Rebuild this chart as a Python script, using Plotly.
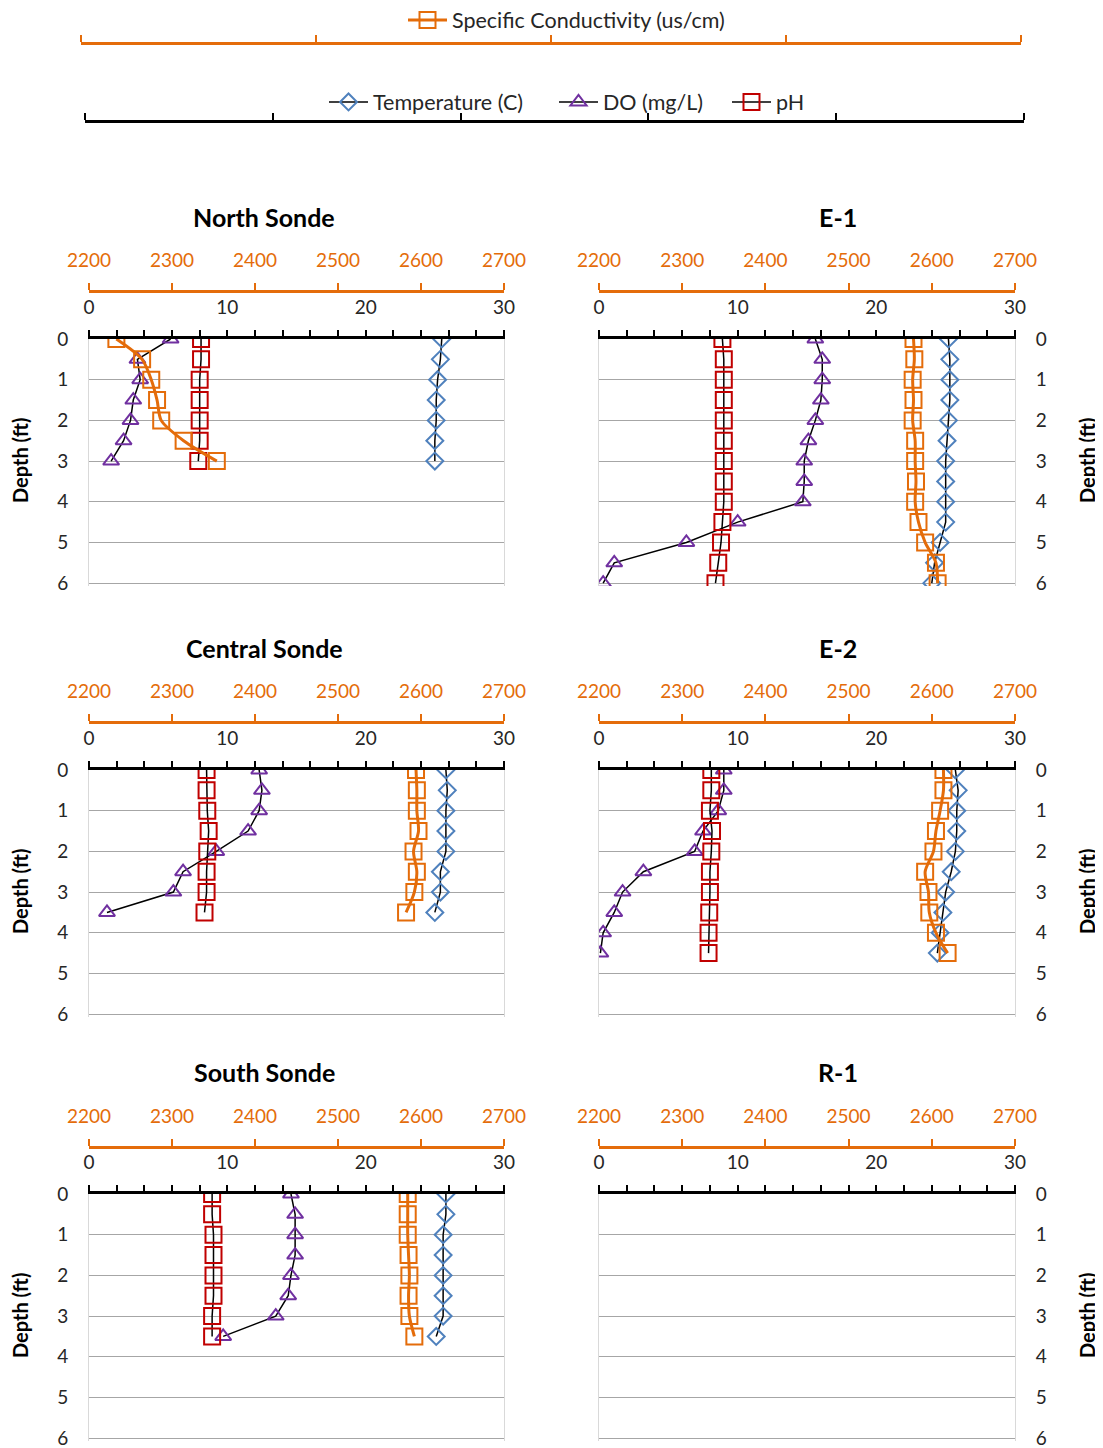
import plotly.graph_objects as go

# ---------------- data ----------------
panel_names = ["North Sonde", "E-1", "Central Sonde", "E-2", "South Sonde", "R-1"]

depth_north = [0, 0.5, 1, 1.5, 2, 2.5, 3]
temp_north = [25.5, 25.4, 25.2, 25.1, 25.1, 25.0, 25.0]
do_north = [5.9, 3.5, 3.7, 3.2, 3.0, 2.5, 1.6]
ph_north = [8.1, 8.1, 8.0, 8.0, 8.0, 8.0, 7.9]
cond_north = [2233, 2264, 2275, 2282, 2287, 2314, 2354]

depth_e1 = [0, 0.5, 1, 1.5, 2, 2.5, 3, 3.5, 4, 4.5, 5, 5.5, 6]
temp_e1 = [25.2, 25.3, 25.3, 25.3, 25.2, 25.1, 25.0, 25.0, 25.0, 25.0, 24.6, 24.2, 24.0]
do_e1 = [15.6, 16.1, 16.1, 16.0, 15.6, 15.1, 14.8, 14.8, 14.7, 10.0, 6.3, 1.1, 0.3]
ph_e1 = [8.9, 9.0, 9.0, 9.0, 9.0, 9.0, 9.0, 9.0, 9.0, 8.9, 8.8, 8.6, 8.4]
cond_e1 = [2578, 2579, 2577, 2578, 2577, 2580, 2580, 2581, 2580, 2584, 2592, 2605, 2607]

depth_central = [0, 0.5, 1, 1.5, 2, 2.5, 3, 3.5]
temp_central = [25.8, 25.9, 25.8, 25.8, 25.8, 25.4, 25.4, 25.0]
do_central = [12.3, 12.5, 12.3, 11.5, 9.2, 6.8, 6.1, 1.3]
ph_central = [8.5, 8.5, 8.55, 8.65, 8.55, 8.5, 8.5, 8.35]
cond_central = [2594, 2595, 2595, 2597, 2591, 2595, 2592, 2582]

depth_e2 = [0, 0.5, 1, 1.5, 2, 2.5, 3, 3.5, 4, 4.5]
temp_e2 = [25.7, 25.9, 25.8, 25.8, 25.7, 25.4, 25.0, 24.8, 24.6, 24.4]
do_e2 = [9.0, 9.0, 8.6, 7.5, 6.9, 3.2, 1.7, 1.1, 0.3, 0.1]
ph_e2 = [8.1, 8.1, 8.0, 8.15, 8.1, 8.0, 8.0, 7.95, 7.9, 7.9]
cond_e2 = [2614, 2614, 2610, 2605, 2602, 2592, 2596, 2597, 2605, 2619]

depth_south = [0, 0.5, 1, 1.5, 2, 2.5, 3, 3.5]
temp_south = [25.8, 25.8, 25.6, 25.6, 25.6, 25.6, 25.6, 25.1]
do_south = [14.6, 14.9, 14.9, 14.9, 14.6, 14.4, 13.5, 9.7]
ph_south = [8.9, 8.9, 9.0, 9.0, 9.0, 9.0, 8.9, 8.9]
cond_south = [2584, 2584, 2584, 2585, 2586, 2585, 2586, 2592]

depth_r1 = []
temp_r1 = []
do_r1 = []
ph_r1 = []
cond_r1 = []

main_ticks = [0, 10, 20, 30]
cond_ticks = [2200, 2300, 2400, 2500, 2600, 2700]
depth_ticks = [0, 1, 2, 3, 4, 5, 6]

series_names = ["Temperature (C)", "DO (mg/L)", "pH", "Specific Conductivity (us/cm)"]
depth_title = "Depth (ft)"

# ---------------- styling / geometry (reference pixel coords) ----------------
OFF = 8                      # page body margin of the html page
W, H = 1103 - OFF, 1448 - OFF
FONT = "Lato"
C_TEMP = "#4F81BD"
C_DO = "#7030A0"
C_PH = "#C00000"
C_COND = "#E46C0A"
TXT = "#262626"


def py(p):
    return 1 - (p - OFF) / H


def pxx(p):
    return (p - OFF) / W


col_dom = [(89, 504), (599, 1015)]
# (plot top, plot bottom, orange axis line, title)
row_geo = [(339, 586, 291, 217), (770, 1017, 722, 648), (1194, 1441, 1147, 1072)]
title_x = [264, 838]
depth_title_x = [20, 1087]

panels = [
    (depth_north, temp_north, do_north, ph_north, cond_north),
    (depth_e1, temp_e1, do_e1, ph_e1, cond_e1),
    (depth_central, temp_central, do_central, ph_central, cond_central),
    (depth_e2, temp_e2, do_e2, ph_e2, cond_e2),
    (depth_south, temp_south, do_south, ph_south, cond_south),
    (depth_r1, temp_r1, do_r1, ph_r1, cond_r1),
]

fig = go.Figure()
layout = {}
annotations = []


def axkey(prefix, n):
    return prefix + ("" if n == 1 else str(n))


for i, (dep, tmp, dox, phx, cnd) in enumerate(panels):
    row, col = divmod(i, 2)
    top, bot, opos, tpos = row_geo[row]
    l, r = col_dom[col]
    nm, no, nb, ny = 3 * i + 1, 3 * i + 2, 3 * i + 3, i + 1
    xm, xo, yy = axkey("x", nm), axkey("x", no), axkey("y", ny)
    show = i == 0

    fig.add_trace(go.Scatter(
        x=tmp, y=dep, xaxis=xm, yaxis=yy, name=series_names[0], mode="lines+markers",
        line=dict(color="black", width=1.5),
        marker=dict(symbol="diamond-open", size=13, color=C_TEMP, line=dict(width=2, color=C_TEMP)),
        showlegend=show, legend="legend2"))
    fig.add_trace(go.Scatter(
        x=dox, y=dep, xaxis=xm, yaxis=yy, name=series_names[1], mode="lines+markers",
        line=dict(color="black", width=1.5),
        marker=dict(symbol="triangle-up-open", size=14, color=C_DO, line=dict(width=2, color=C_DO)),
        showlegend=show, legend="legend3"))
    fig.add_trace(go.Scatter(
        x=phx, y=dep, xaxis=xm, yaxis=yy, name=series_names[2], mode="lines+markers",
        line=dict(color="black", width=1.5),
        marker=dict(symbol="square-open", size=16, color=C_PH, line=dict(width=2, color=C_PH)),
        showlegend=show, legend="legend4"))
    fig.add_trace(go.Scatter(
        x=cnd, y=dep, xaxis=xo, yaxis=yy, name=series_names[3], mode="lines+markers",
        line=dict(color=C_COND, width=3, shape="spline", smoothing=0.8),
        marker=dict(symbol="square-open", size=16, color=C_COND, line=dict(width=2, color=C_COND)),
        showlegend=show, legend="legend"))

    dom = [pxx(l), pxx(r)]
    layout[axkey("xaxis", nm)] = dict(
        domain=dom, anchor=yy, side="top", range=[0, 30], automargin=False,
        tickmode="array", tickvals=main_ticks,
        ticks="outside", ticklen=6, tickwidth=2, tickcolor="black",
        minor=dict(tickmode="linear", tick0=0, dtick=2, ticks="outside", ticklen=6, tickwidth=2, tickcolor="black"),
        showline=True, linewidth=3, linecolor="black", showgrid=False, zeroline=False,
        tickfont=dict(family=FONT, size=19, color=TXT), ticklabelstandoff=8,
    )
    layout[axkey("xaxis", no)] = dict(
        overlaying=xm, anchor="free", position=py(opos), side="top", range=[2200, 2700],
        automargin=False,
        tickmode="array", tickvals=cond_ticks,
        ticks="outside", ticklen=7, tickwidth=2, tickcolor=C_COND,
        showline=True, linewidth=3, linecolor=C_COND, showgrid=False, zeroline=False,
        tickfont=dict(family=FONT, size=19, color=C_COND), ticklabelstandoff=8,
    )
    layout[axkey("xaxis", nb)] = dict(
        overlaying=xm, anchor=yy, side="bottom", range=[0, 30], automargin=False,
        showline=True, linewidth=1, linecolor="#D9D9D9", showticklabels=False,
        ticks="", showgrid=False, zeroline=False,
    )
    layout[axkey("yaxis", ny)] = dict(
        domain=[py(bot), py(top)], anchor=xm, range=[6.07, 0], automargin=False,
        side="left" if col == 0 else "right",
        tickmode="array", tickvals=depth_ticks, ticks="", ticklabeloverflow="allow",
        showgrid=True, gridcolor="#A6A6A6", gridwidth=1, zeroline=False,
        showline=True, linecolor="#D9D9D9", linewidth=1, mirror=True,
        tickfont=dict(family=FONT, size=19, color=TXT), ticklabelstandoff=16,
    )
    annotations.append(dict(
        text="<b>%s</b>" % panel_names[i], x=pxx(title_x[col]), y=py(tpos),
        xref="paper", yref="paper", xanchor="center", yanchor="middle", showarrow=False,
        font=dict(family=FONT, size=25, color="black")))
    annotations.append(dict(
        text="<b>%s</b>" % depth_title, x=pxx(depth_title_x[col]), y=py(top + 122),
        xref="paper", yref="paper", xanchor="center", yanchor="middle", showarrow=False,
        textangle=-90, font=dict(family=FONT, size=20, color="black")))

# legend-area axes (Excel shows them with hidden labels)
fig.add_trace(go.Scatter(x=[], y=[], xaxis="x19", yaxis="y7", showlegend=False, hoverinfo="skip"))
fig.add_trace(go.Scatter(x=[], y=[], xaxis="x20", yaxis="y8", showlegend=False, hoverinfo="skip"))
layout["xaxis19"] = dict(
    domain=[pxx(81), pxx(1021)], anchor="y7", side="top", range=[0, 4], automargin=False,
    tickmode="array", tickvals=[0, 1, 2, 3, 4], showticklabels=False,
    ticks="outside", ticklen=7, tickwidth=2, tickcolor=C_COND,
    showline=True, linewidth=3, linecolor=C_COND, showgrid=False, zeroline=False)
layout["yaxis7"] = dict(domain=[py(49), py(45)], anchor="x19", visible=False, range=[0, 1], automargin=False)
layout["xaxis20"] = dict(
    domain=[pxx(85), pxx(1024)], anchor="y8", side="top", range=[0, 5], automargin=False,
    tickmode="array", tickvals=[0, 1, 2, 3, 4, 5], showticklabels=False,
    ticks="outside", ticklen=7, tickwidth=2, tickcolor="black",
    showline=True, linewidth=3, linecolor="black", showgrid=False, zeroline=False)
layout["yaxis8"] = dict(domain=[py(127), py(123)], anchor="x20", visible=False, range=[0, 1], automargin=False)


def leg(xpix, ypix):
    return dict(orientation="h", x=pxx(xpix), y=py(ypix), xanchor="left", yanchor="middle",
                itemwidth=39, font=dict(family=FONT, size=21.5, color=TXT),
                bgcolor="rgba(0,0,0,0)", borderwidth=0)


fig.update_layout(
    width=W, height=H, margin=dict(l=0, r=0, t=0, b=0, autoexpand=False),
    paper_bgcolor="white", plot_bgcolor="rgba(0,0,0,0)",
    font=dict(family=FONT, size=19, color=TXT),
    annotations=annotations,
    legend=leg(403, 20),
    legend2=leg(324, 102),
    legend3=leg(554, 102),
    legend4=leg(727, 102),
    showlegend=True,
    **layout,
)

fig.write_html("out.html")
